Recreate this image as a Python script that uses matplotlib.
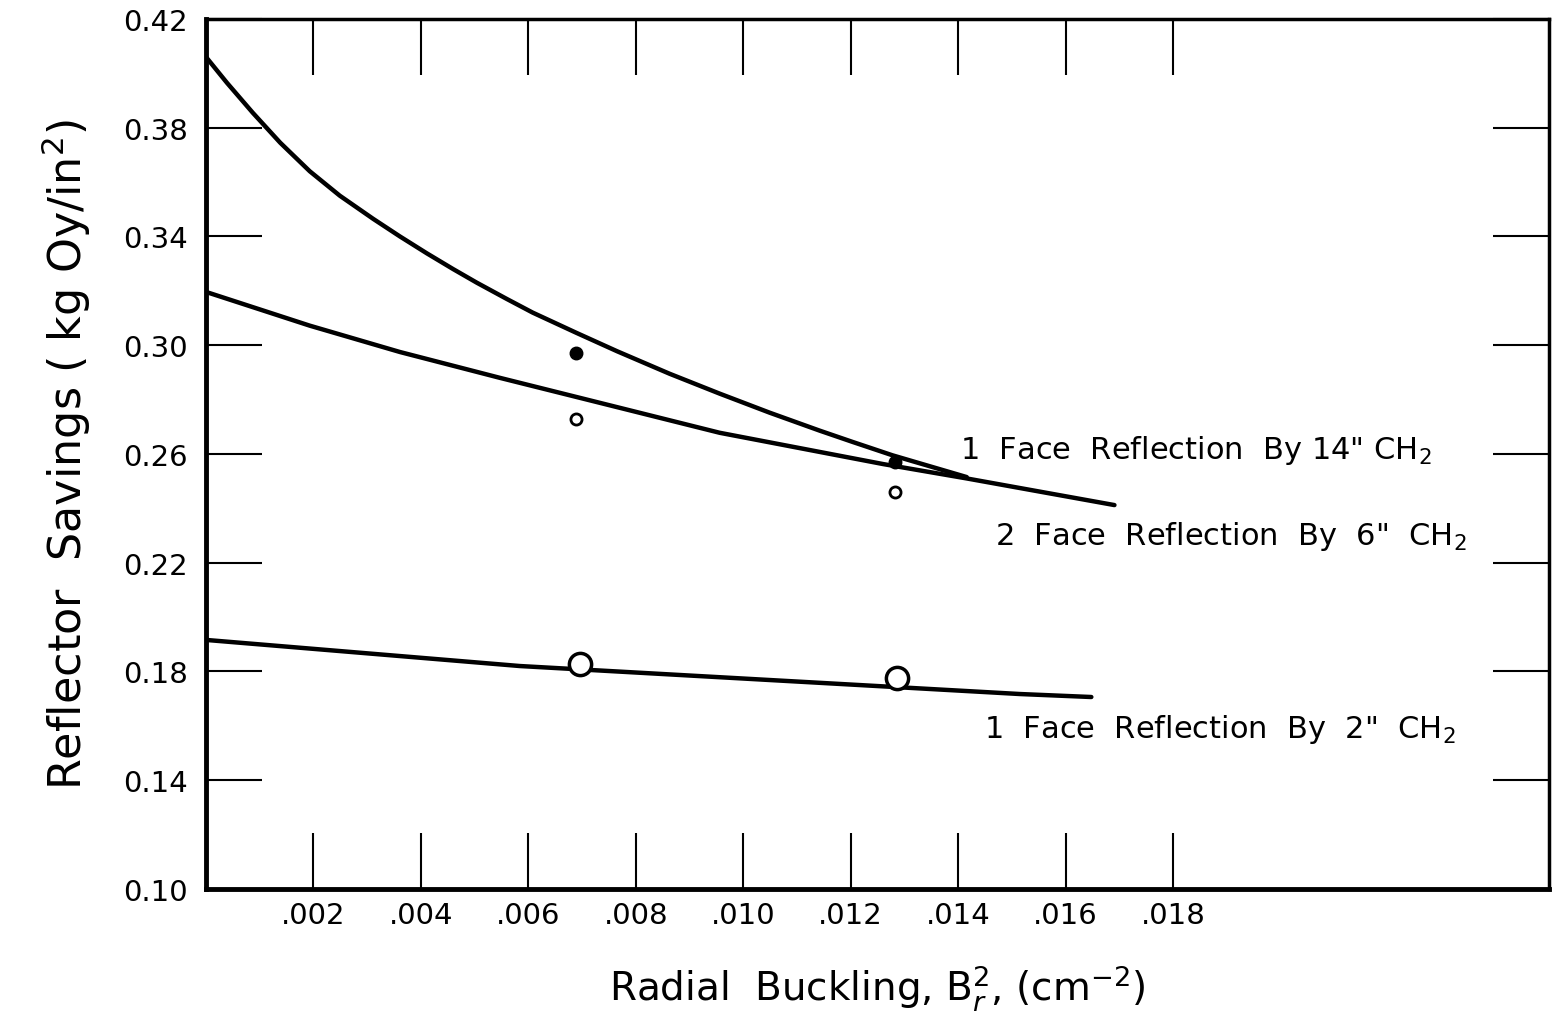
import matplotlib
matplotlib.use("Agg")
import matplotlib.pyplot as plt

# Data
# 1 face reflection by 14" CH2 (steep curve)
face1_14_x = [0.0, 0.00039, 0.00087, 0.00138, 0.00193, 0.00249, 0.00311, 0.00361, 0.00411,
              0.0046, 0.00504, 0.0056, 0.00608, 0.0069, 0.00765, 0.00863, 0.00956, 0.01049,
              0.01142, 0.01204, 0.01278, 0.01416]
face1_14_y = [0.406, 0.3965, 0.3855, 0.3745, 0.364, 0.355, 0.3465, 0.340, 0.3338,
              0.328, 0.323, 0.317, 0.312, 0.3045, 0.2978, 0.2895, 0.2822, 0.2752,
              0.2686, 0.2644, 0.2595, 0.2515]

# 2 face reflection by 6" CH2
face2_6_x = [0.0, 0.00193, 0.00361, 0.00547, 0.00956, 0.0126, 0.01416, 0.01691]
face2_6_y = [0.3196, 0.3072, 0.2975, 0.288, 0.2678, 0.2563, 0.251, 0.2412]

# 1 face reflection by 2" CH2
face1_2_x = [0.0, 0.00584, 0.01515, 0.01648]
face1_2_y = [0.1916, 0.182, 0.1717, 0.1706]

# measured points
filled_x = [0.00688, 0.01282]
filled_y = [0.297, 0.257]
small_open_x = [0.00688, 0.01282]
small_open_y = [0.273, 0.246]
big_open_x = [0.00696, 0.01287]
big_open_y = [0.1828, 0.1776]

xticks = [0.002, 0.004, 0.006, 0.008, 0.010, 0.012, 0.014, 0.016, 0.018]
xtick_labels = [".002", ".004", ".006", ".008", ".010", ".012", ".014", ".016", ".018"]
yticks = [0.10, 0.14, 0.18, 0.22, 0.26, 0.30, 0.34, 0.38, 0.42]
ytick_labels = ["0.10", "0.14", "0.18", "0.22", "0.26", "0.30", "0.34", "0.38", "0.42"]

plt.rcParams["font.family"] = ["DejaVu Sans"]

fig = plt.figure(figsize=(15.54, 10.2), dpi=100)
ax = fig.add_axes([0.1326, 0.1275, 0.8642, 0.8529])

lw = 3.2
ax.plot(face1_14_x, face1_14_y, color="black", lw=lw, solid_capstyle="round", solid_joinstyle="round")
ax.plot(face2_6_x, face2_6_y, color="black", lw=lw, solid_capstyle="round", solid_joinstyle="round")
ax.plot(face1_2_x, face1_2_y, color="black", lw=lw, solid_capstyle="round", solid_joinstyle="round")

ax.plot(filled_x, filled_y, "o", color="black", ms=9, zorder=5)
ax.plot(small_open_x, small_open_y, "o", mfc="white", mec="black", ms=8, mew=2, zorder=5)
ax.plot(big_open_x, big_open_y, "o", mfc="white", mec="black", ms=16, mew=2.5, zorder=5)

ax.set_xlim(0, 0.025)
ax.set_ylim(0.10, 0.42)
ax.set_xticks(xticks)
ax.set_xticklabels(xtick_labels, fontsize=21)
ax.set_yticks(yticks)
ax.set_yticklabels(ytick_labels, fontsize=21)
ax.tick_params(axis="both", direction="in", length=40, width=1.5,
               top=True, right=True, color="black")
ax.tick_params(axis="x", pad=9)
ax.tick_params(axis="y", pad=13)

for side in ["left", "bottom"]:
    ax.spines[side].set_linewidth(3.5)
for side in ["top", "right"]:
    ax.spines[side].set_linewidth(2.5)

ax.set_xlabel(r"Radial  Buckling, B$_r^2$, (cm$^{-2}$)", fontsize=28, labelpad=24)
ax.set_ylabel(r"Reflector  Savings ( kg Oy/in$^2$)", fontsize=32, labelpad=22)

ax.text(0.01403, 0.2618, "1  Face  Reflection  By 14\" CH$_2$", fontsize=22, va="center")
ax.text(0.01468, 0.2300, "2  Face  Reflection  By  6\"  CH$_2$", fontsize=22, va="center")
ax.text(0.01449, 0.1589, "1  Face  Reflection  By  2\"  CH$_2$", fontsize=22, va="center")

plt.savefig("out.png", dpi=100)
plt.close()
